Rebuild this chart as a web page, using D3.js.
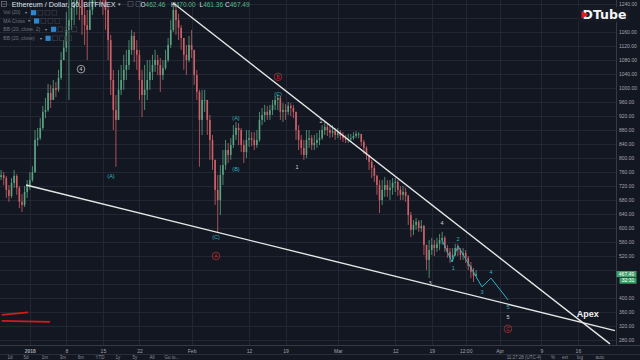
<!DOCTYPE html>
<html><head><meta charset="utf-8">
<script src="https://cdn.jsdelivr.net/npm/d3@7"></script>
<style>
html,body{margin:0;padding:0;background:#131722;overflow:hidden;}
svg{display:block;font-family:"Liberation Sans",Arial,sans-serif;}
</style></head><body>
<svg id="c" width="640" height="360"></svg>
<script>
// ---- data (12h candles, day offsets from 2018-01-01) ----
const firstDay = -5.5;
const firstOpen = 745;
const closes = [750,742,708,691,728,748,714,674,665,702,
719,736,759,851,856,885,931,936,985,965,
999,994,1028,1079,1114,1165,1193,1228,1237,1265,
1251,1208,1179,1165,1222,1251,1293,1308,1279,1251,
1222,1136,1022,936,908,994,1022,1051,1065,1108,
1148,1108,1094,1022,979,994,1022,1045,1065,1079,
1065,1036,1056,1079,1122,1165,1222,1193,1171,1142,
1094,1079,1122,1108,1036,988,908,965,965,908,
851,794,708,679,751,779,822,808,836,865,
885,879,836,816,851,856,851,836,851,908,
922,931,922,936,951,965,971,931,936,931,
948,942,931,879,851,828,808,851,856,836,
842,851,856,879,888,879,871,876,865,871,
862,856,851,853,856,862,868,868,845,828,
808,788,771,748,722,679,708,722,708,714,
728,731,708,694,702,691,636,594,608,617,
599,605,551,508,536,551,542,554,565,571,
542,531,514,522,542,536,522,528,514,491,
474,462.46,467.49];
const highs = [765,759,748,722,742,765,753,719,696,719,
736,759,776,879,885,913,948,971,1011,1008,
1022,1016,1051,1102,1136,1216,1251,1279,1308,1336,
1365,1279,1236,1222,1279,1336,1365,1393,1365,1336,
1279,1236,1151,1051,979,1051,1065,1094,1108,1136,
1165,1159,1136,1108,1051,1065,1079,1079,1094,1108,
1094,1085,1079,1108,1142,1193,1245,1236,1211,1179,
1142,1122,1148,1165,1108,1051,994,994,994,965,
922,865,794,751,779,822,851,842,856,893,
902,899,885,851,879,879,873,873,879,931,
942,951,948,951,965,976,982,976,956,953,
959,956,951,931,893,865,851,879,879,865,
865,871,879,893,902,899,891,893,885,885,
879,873,865,868,868,873,876,873,868,851,
833,808,794,779,751,736,736,745,736,736,
742,742,736,719,719,714,694,645,622,628,
622,622,608,551,565,571,565,571,582,588,
576,551,542,542,554,554,542,542,536,519,
502,485,479];
const lows = [736,722,685,674,685,714,694,656,645,659,
685,708,731,756,833,851,879,913,931,942,
965,973,988,1022,1079,1102,965,1165,1179,1208,
1193,1151,1122,1079,1165,1208,1236,1265,1236,1208,
1165,1079,979,879,774,908,979,994,1022,1051,
1094,1073,1051,965,916,936,965,994,1022,1045,
1036,988,1022,1051,1073,1113,1159,1151,1136,1108,
1051,1036,1073,1085,1008,965,774,865,931,865,
794,765,665,585,636,722,765,785,794,828,
851,836,816,785,799,831,833,822,828,845,
893,902,908,908,922,936,936,908,902,908,
922,919,913,851,822,808,794,799,828,822,
822,828,836,851,865,862,856,859,851,856,
851,845,842,842,845,851,856,856,833,811,
794,765,742,731,694,642,665,688,688,679,
694,702,691,679,679,674,608,573,579,594,
588,588,522,479,456,522,519,531,536,551,
531,514,499,502,519,519,508,508,499,479,
456,445,461.36];

const priceTicks = [280,320,360,400,440,480,520,560,600,640,680,720,760,800,840,880,920,960,1000,1040,1080,1120,1160,1200,1240];
// labels visible in the reference (440, 480 hidden by price tags, 1200 by logo)
const priceLabelTicks = [280,320,360,400,520,560,600,640,680,720,760,800,840,880,920,960,1000,1040,1080,1120,1160,1240];
const timeTicks = [0,7,14,21,31,42,49,59,70,77,83.5,90,98,105];
const timeLabels = ["2018","8","15","22","Feb","12","19","Mar","12","19","12:00","Apr","9","16"];

// drawings (day, price)
const upperLine = [[27.47,1242],[111.15,268]];
const lowerLine = [[-0.73,722],[112.1,306]];
const wavePath = [[78.97,565],[80.88,502],[82.03,548],[86.63,431],[88.35,456],[91.6,394]];
const redStrokes = [[[-5.38,351],[-0.35,358]],[[-5.38,334],[3.87,331]]];
const cyanLabels = [["(A)",15.56,748],["(C)",35.67,573],["(A)",39.5,913],["(B)",39.5,768],["(C)",47.55,982],
  ["1",81.13,486],["2",82.03,568],["3",86.63,415],["4",88.35,472],["5",91.6,372]];
const whiteLabels = [["1",51.2,774],["2",55.78,905],["3",76.67,442],["4",78.97,614],["5",91.6,344]];
const circledWhite = [["4",9.81,1053]];
const circledRed = [["B",47.55,1031],["A",35.67,519],["C",91.6,311]];
const apexLabel = ["Apex",106.9,353];
const lastPrice = 467.49;
const countdown = "32:31";
const legendRows = ["Vol (20)","MA Cross","BB (20, close, 2)","BB (20, close)"];
const ohlc = [["O","462.46"],["H","470.00"],["L","461.36"],["C","467.49"]];

// ---- drawing ----
const W=640,H=360,paneR=616.5,paneB=345.5;
const x = d3.scaleLinear().domain([0,105]).range([29.8,577.9]);
const y = d3.scaleLinear().domain([280,1240]).range([339.7,3.7]);
const svg = d3.select('#c');
svg.append('rect').attr('width',W).attr('height',H).attr('fill','#131722');
const defs = svg.append('defs');
defs.append('clipPath').attr('id','pane').append('rect').attr('x',0).attr('y',0).attr('width',paneR).attr('height',paneB);

const grid = svg.append('g').attr('stroke','#232734').attr('stroke-width',1);
grid.selectAll('line.h').data(priceTicks).join('line')
  .attr('x1',0).attr('x2',paneR).attr('y1',d=>Math.round(y(d))+0.5).attr('y2',d=>Math.round(y(d))+0.5);
grid.selectAll('line.v').data(timeTicks).join('line')
  .attr('y1',0).attr('y2',paneB).attr('x1',d=>Math.round(x(d))+0.5).attr('x2',d=>Math.round(x(d))+0.5);

const candles = closes.map((c,i)=>({d:firstDay+i*0.5,o:i?closes[i-1]:firstOpen,c,h:highs[i],l:lows[i]}));
const up='#5aa482', dn='#cf6167';
const cg = svg.append('g').attr('clip-path','url(#pane)');
cg.selectAll('line.w').data(candles).join('line')
  .attr('x1',d=>x(d.d)).attr('x2',d=>x(d.d)).attr('y1',d=>y(d.h)).attr('y2',d=>y(d.l))
  .attr('stroke',d=>d.c>=d.o?up:dn).attr('stroke-width',0.8);
cg.selectAll('rect.b').data(candles).join('rect')
  .attr('x',d=>x(d.d)-0.8).attr('width',1.6)
  .attr('y',d=>y(Math.max(d.o,d.c))).attr('height',d=>Math.max(0.8,Math.abs(y(d.o)-y(d.c))))
  .attr('fill',d=>d.c>=d.o?up:dn);

// drawings
const dg = svg.append('g').attr('clip-path','url(#pane)');
const line = d3.line().x(d=>x(d[0])).y(d=>y(d[1]));
dg.append('path').attr('d',line(upperLine)).attr('stroke','#e6e6e6').attr('stroke-width',1.4).attr('fill','none');
dg.append('path').attr('d',line(lowerLine)).attr('stroke','#e6e6e6').attr('stroke-width',1.4).attr('fill','none');
dg.append('path').attr('d',line(wavePath)).attr('stroke','#2fb3bf').attr('stroke-width',1).attr('fill','none');
redStrokes.forEach(s=>dg.append('path').attr('d',line(s)).attr('stroke','#d41a1a').attr('stroke-width',1.8).attr('fill','none'));

dg.selectAll('text.cy').data(cyanLabels).join('text')
  .attr('x',d=>x(d[1])).attr('y',d=>y(d[2])).attr('dy','0.35em').attr('text-anchor','middle')
  .attr('font-size',5.5).attr('fill','#30b4c0').text(d=>d[0]);
dg.selectAll('text.wh').data(whiteLabels).join('text')
  .attr('x',d=>x(d[1])).attr('y',d=>y(d[2])).attr('dy','0.35em').attr('text-anchor','middle')
  .attr('font-size',5.5).attr('fill','#d6d6d6').text(d=>d[0]);
circledWhite.forEach(c=>{
  dg.append('circle').attr('cx',x(c[1])).attr('cy',y(c[2])).attr('r',3.8).attr('fill','none').attr('stroke','#d6d6d6').attr('stroke-width',0.7);
  dg.append('text').attr('x',x(c[1])).attr('y',y(c[2])).attr('dy','0.35em').attr('text-anchor','middle').attr('font-size',5).attr('fill','#d6d6d6').text(c[0]);
});
circledRed.forEach(c=>{
  dg.append('circle').attr('cx',x(c[1])).attr('cy',y(c[2])).attr('r',3.8).attr('fill','none').attr('stroke','#c8302f').attr('stroke-width',0.7);
  dg.append('text').attr('x',x(c[1])).attr('y',y(c[2])).attr('dy','0.35em').attr('text-anchor','middle').attr('font-size',5).attr('fill','#c8302f').text(c[0]);
});
dg.append('text').attr('x',x(apexLabel[1])).attr('y',y(apexLabel[2])).attr('dy','0.35em').attr('text-anchor','middle')
  .attr('font-size',9).attr('font-weight','bold').attr('fill','#f0f0f0').text(apexLabel[0]);

// pane borders
svg.append('line').attr('x1',paneR).attr('x2',paneR).attr('y1',0).attr('y2',paneB).attr('stroke','#363a45');
svg.append('line').attr('x1',0).attr('x2',W).attr('y1',paneB).attr('y2',paneB).attr('stroke','#363a45');

// price axis
const ya = svg.append('g').attr('transform',`translate(${paneR},0)`)
  .call(d3.axisRight(y).tickValues(priceLabelTicks).tickFormat(d3.format('.2f')).tickSize(0).tickPadding(2.5));
ya.select('.domain').remove();
ya.selectAll('text').attr('fill','#a3a6af').attr('font-size',5).attr('font-family','"Liberation Sans",Arial,sans-serif');

// time axis
const xa = svg.append('g').attr('transform',`translate(0,${paneB})`)
  .call(d3.axisBottom(x).tickValues(timeTicks).tickFormat((d,i)=>timeLabels[i]).tickSize(0).tickPadding(4));
xa.select('.domain').remove();
xa.selectAll('text').attr('fill','#a3a6af').attr('font-size',5).attr('font-family','"Liberation Sans",Arial,sans-serif')
  .attr('font-weight',(d,i)=>i===0?'bold':'normal');

// last price labels
const lp = svg.append('g');
lp.append('rect').attr('x',paneR).attr('y',y(lastPrice)-3.1).attr('width',20).attr('height',6.2).attr('fill','#3f9f68');
lp.append('text').attr('x',paneR+10).attr('y',y(lastPrice)).attr('dy','0.35em').attr('text-anchor','middle').attr('font-size',5).attr('fill','#fff').text(d3.format('.2f')(lastPrice));
lp.append('rect').attr('x',paneR+3).attr('y',y(lastPrice)+3.6).attr('width',17).attr('height',6).attr('fill','#3f9f68');
lp.append('text').attr('x',paneR+11.5).attr('y',y(lastPrice)+6.6).attr('dy','0.35em').attr('text-anchor','middle').attr('font-size',5).attr('fill','#fff').text(countdown);

// bottom toolbar
svg.append('line').attr('x1',0).attr('x2',W).attr('y1',354.5).attr('y2',354.5).attr('stroke','#2a2e39');
const tb = [["1d",10],["5d",26],["1m",45],["3m",63],["6m",81],["YTD",100],["1y",118],["5y",135],["All",152],["Go to...",172],["11:27:28 (UTC-4)",524],["%",553],["ext",565],["log",580],["auto",600]];
svg.selectAll('text.tb').data(tb).join('text').attr('x',d=>d[1]).attr('y',359).attr('text-anchor','middle')
  .attr('font-size',4.5).attr('fill','#8a8d96').text(d=>d[0]);

// header legend
const hg = svg.append('g');
hg.append('rect').attr('x',1.5).attr('y',1.5).attr('width',5).attr('height',5).attr('fill','none').attr('stroke','#8a8d96').attr('stroke-width',0.6);
hg.append('line').attr('x1',2.5).attr('x2',5.5).attr('y1',4).attr('y2',4).attr('stroke','#8a8d96').attr('stroke-width',0.6);
hg.append('text').attr('x',11.7).attr('y',6.6).attr('font-size',7.2).attr('fill','#dfe2ea').text('Ethereum / Dollar, 60, BITFINEX');
hg.append('text').attr('x',118).attr('y',6.4).attr('font-size',5).attr('fill','#b0b3bb').text('▾');
[128,136].forEach(v=>hg.append('rect').attr('x',v).attr('y',1.6).attr('width',5).attr('height',5).attr('fill','none').attr('stroke','#5d606b').attr('stroke-width',0.6));
const ox=[140.5,171,199.5,225];
ohlc.forEach((o,i)=>{
  const t=hg.append('text').attr('x',ox[i]).attr('y',6.6).attr('font-size',6.5);
  t.append('tspan').attr('fill','#dfe2ea').text(o[0]);
  t.append('tspan').attr('fill','#53b987').text(o[1]);
});
const rowY=[12.7,21,29.3,38.3];
const blueX=[31,34,51,45.5];
legendRows.forEach((r,i)=>{
  hg.append('text').attr('x',3.3).attr('y',rowY[i]).attr('dy','0.35em').attr('font-size',5).attr('fill','#6f7380').text(r);
  hg.append('text').attr('x',blueX[i]-6).attr('y',rowY[i]).attr('dy','0.35em').attr('font-size',4).attr('fill','#9a9da6').text('▾');
  hg.append('rect').attr('x',blueX[i]).attr('y',rowY[i]-2.6).attr('width',5.2).attr('height',5.2).attr('fill','#2b87d1');
  [1,2,3].forEach(k=>hg.append('rect').attr('x',blueX[i]+k*7).attr('y',rowY[i]-2.4).attr('width',4.8).attr('height',4.8)
    .attr('fill','none').attr('stroke','#3f434e').attr('stroke-width',0.6));
});

// DTube logo
const lg = svg.append('g');
lg.append('rect').attr('x',578).attr('y',7).attr('width',52).attr('height',15).attr('fill','#161a25');
lg.append('text').attr('x',582.5).attr('y',19.3).attr('font-size',12.5).attr('font-weight','bold')
  .attr('font-family','"DejaVu Sans",sans-serif').attr('fill','#f4f4f4').text('DTube');
lg.append('path').attr('d','M581.5,11 L588.5,14.8 L581.5,18.6 Z').attr('fill','#e31b23');
</script>
</body></html>
